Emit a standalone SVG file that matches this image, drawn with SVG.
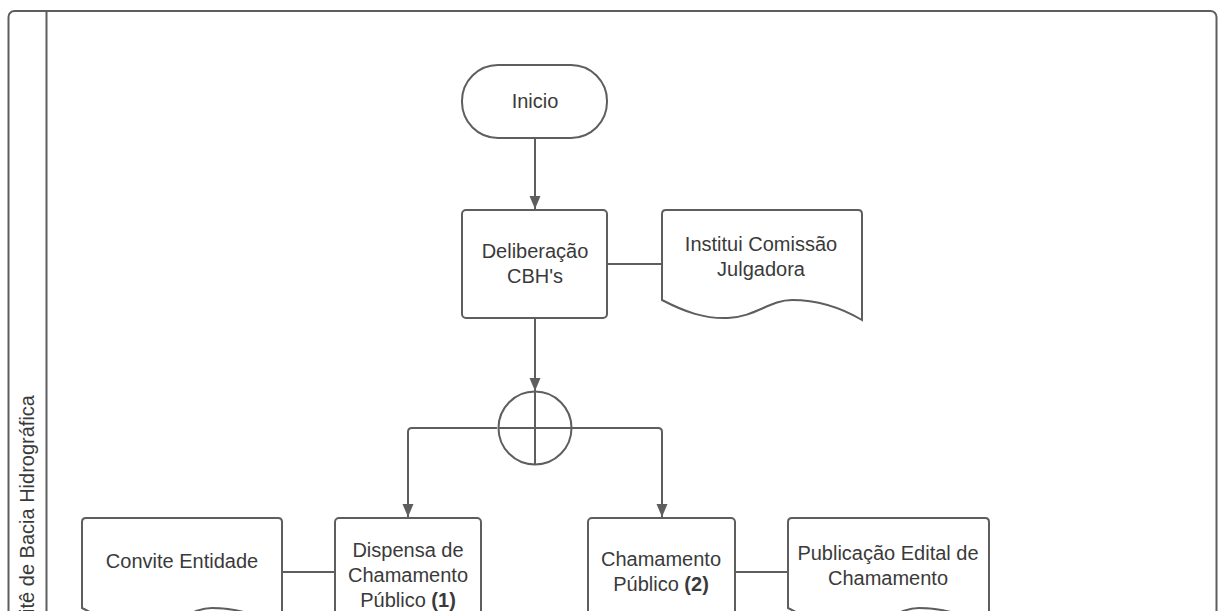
<svg xmlns="http://www.w3.org/2000/svg" width="1224" height="611" viewBox="0 0 1224 611">
<style>
.s{fill:#ffffff;stroke:#5e5e5e;stroke-width:2}
.c{fill:none;stroke:#5e5e5e;stroke-width:2}
.t{font-family:"Liberation Sans",Arial,sans-serif;font-size:20px;fill:#3a3a3a;text-anchor:middle}
.b{font-weight:bold}
</style>
<defs>
<marker id="arr" markerWidth="14" markerHeight="12" refX="13" refY="5.5" orient="auto" markerUnits="userSpaceOnUse">
<path d="M0,0 L13,5.5 L0,11 Z" fill="#5e5e5e"/>
</marker>
</defs>
<rect width="1224" height="611" fill="#ffffff"/>
<g id="pool">
<rect x="8.5" y="11" width="1208" height="720" rx="6" class="s"/>
<line x1="46.5" y1="11" x2="46.5" y2="611" class="c"/>
<text class="t" style="text-anchor:end" transform="translate(34,395) rotate(-90)">Comitê de Bacia Hidrográfica</text>
</g>
<g id="connectors">
<line x1="535" y1="138" x2="535" y2="209" class="c" marker-end="url(#arr)"/>
<line x1="607" y1="264" x2="662" y2="264" class="c"/>
<line x1="535" y1="318" x2="535" y2="391" class="c" marker-end="url(#arr)"/>
<path d="M497,428 H412 Q408,428 408,432 V517" class="c" marker-end="url(#arr)"/>
<path d="M572,428 H658 Q662,428 662,432 V517" class="c" marker-end="url(#arr)"/>
<line x1="282" y1="572" x2="335" y2="572" class="c"/>
<line x1="735" y1="572" x2="789" y2="572" class="c"/>
</g>
<g id="inicio">
<rect x="462" y="65" width="145" height="73" rx="36" class="s"/>
<text class="t" x="535" y="108">Inicio</text>
</g>
<g id="deliberacao">
<rect x="462" y="210" width="145" height="108" rx="4" class="s"/>
<text class="t" x="535" y="258">Deliberação</text>
<text class="t" x="535" y="283">CBH's</text>
</g>
<g id="institui">
<path d="M666,210 H858 Q862,210 862,214 V320 C845,310 820,300 792,300 C770,300 755,317 728,318 C705,319 685,312 662,300 V214 Q662,210 666,210 Z" class="s"/>
<text class="t" x="761" y="251">Institui Comissão</text>
<text class="t" x="761" y="276">Julgadora</text>
</g>
<g id="gateway">
<circle cx="535" cy="428" r="36.5" class="s"/>
<line x1="535" y1="391.5" x2="535" y2="464.5" class="c"/>
<line x1="498.5" y1="428" x2="571.5" y2="428" class="c"/>
</g>
<g id="convite">
<path d="M86,518 H278 Q282,518 282,522 V628 C265,618 240,608 212,608 C190,608 175,627 148,628 C125,629 105,620 82,608 V522 Q82,518 86,518 Z" class="s"/>
<text class="t" x="182" y="568">Convite Entidade</text>
</g>
<g id="dispensa">
<rect x="335" y="518" width="146" height="120" rx="4" class="s"/>
<text class="t" x="408" y="557">Dispensa de</text>
<text class="t" x="408" y="582">Chamamento</text>
<text class="t" x="408" y="607">Público <tspan class="b">(1)</tspan></text>
</g>
<g id="chamamento">
<rect x="588" y="518" width="147" height="120" rx="4" class="s"/>
<text class="t" x="661" y="566">Chamamento</text>
<text class="t" x="661" y="591">Público <tspan class="b">(2)</tspan></text>
</g>
<g id="publicacao">
<path d="M792,518 H985 Q989,518 989,522 V628 C972,618 947,608 919,608 C897,608 882,627 855,628 C832,629 811,620 788,608 V522 Q788,518 792,518 Z" class="s"/>
<text class="t" x="888" y="560">Publicação Edital de</text>
<text class="t" x="888" y="585">Chamamento</text>
</g>
</svg>
